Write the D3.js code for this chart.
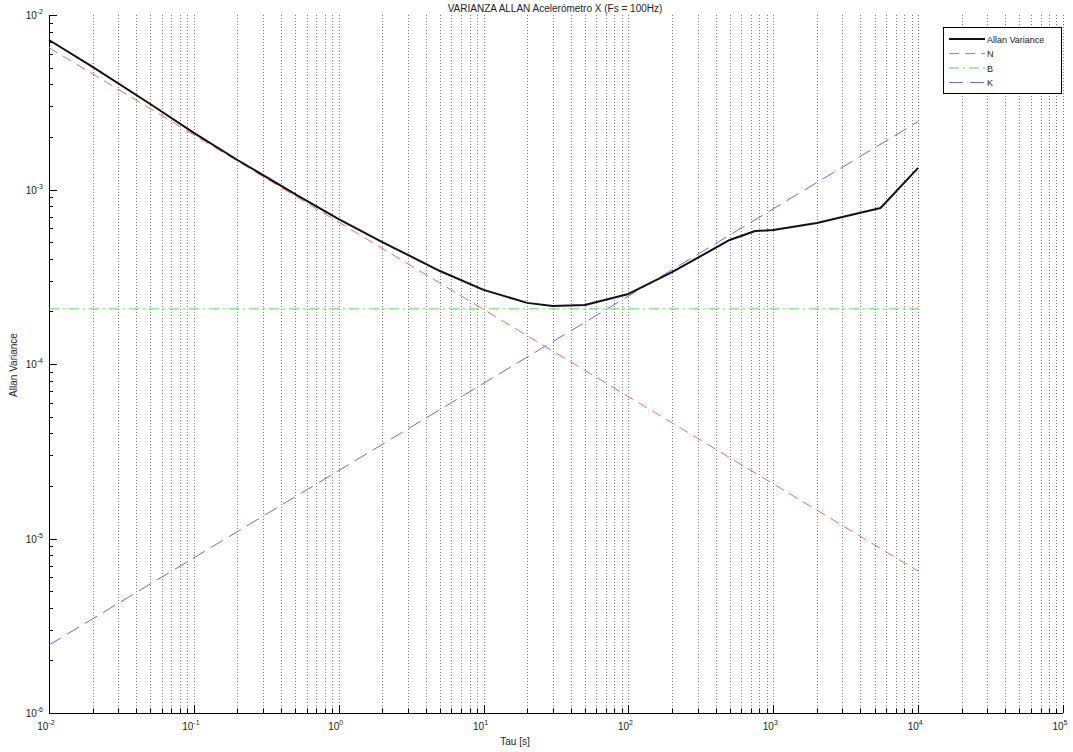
<!DOCTYPE html>
<html>
<head>
<meta charset="utf-8">
<script src="https://cdn.jsdelivr.net/npm/d3@7"></script>
<style>
  html, body { margin: 0; padding: 0; background: #fff; }
  svg { display: block; font-family: "Liberation Sans", Arial, Helvetica, sans-serif; }
</style>
</head>
<body>
<svg id="chart" width="1073" height="752"></svg>
<script>
// Measured Allan curve (tau in seconds)
const tau = [0.01, 0.02, 0.05, 0.1, 0.2, 0.5, 1, 2, 5, 10, 20, 30, 50, 100, 200, 500, 750, 1000, 2000, 5500, 10000];
const allanDev = [7.19e-3, 5.04e-3, 3.09e-3, 2.11e-3, 1.476e-3, 9.42e-4, 6.77e-4, 5.00e-4, 3.41e-4, 2.66e-4,
                  2.24e-4, 2.15e-4, 2.18e-4, 2.52e-4, 3.36e-4, 5.14e-4, 5.78e-4, 5.86e-4, 6.43e-4, 7.83e-4, 1.33e-3];

// Noise-term fit lines (end points)
const fitTau = [0.01, 10000];
const nFit = [6.5e-3, 6.5e-6];
const bFit = [2.07e-4, 2.07e-4];
const kFit = [2.45e-6, 2.45e-3];

const xDecades = [-2, -1, 0, 1, 2, 3, 4, 5];
const yDecades = [-6, -5, -4, -3, -2];

const titleText = "VARIANZA ALLAN Acelerómetro X (Fs = 100Hz)";
const xLabel = "Tau [s]";
const yLabel = "Allan Variance";
const legendNames = ["Allan Variance", "N", "B", "K"];

const svg = d3.select("#chart");
const L = 49, R = 1063, T = 15, B = 713;

const x = d3.scaleLog().domain([1e-2, 1e5]).range([L, R]);
const y = d3.scaleLog().domain([1e-6, 1e-2]).range([B, T]);

// Tick positions: majors at decades, minors at 2..9
const xMinor = [];
xDecades.slice(0, -1).forEach(d => { for (let k = 2; k <= 9; k++) xMinor.push(k * Math.pow(10, d)); });
const xMajor = xDecades.map(d => Math.pow(10, d));
const yMinor = [];
yDecades.slice(0, -1).forEach(d => { for (let k = 2; k <= 9; k++) yMinor.push(k * Math.pow(10, d)); });
const yMajor = yDecades.map(d => Math.pow(10, d));

// Vertical dotted grid
svg.append("g").selectAll("line")
  .data(xMajor.concat(xMinor))
  .join("line")
  .attr("x1", d => Math.round(x(d)) + 0.5).attr("x2", d => Math.round(x(d)) + 0.5)
  .attr("y1", T).attr("y2", B)
  .attr("stroke", "#777").attr("stroke-width", 1)
  .attr("stroke-dasharray", "1,2");

// Axes lines
svg.append("line").attr("x1", L).attr("x2", R).attr("y1", B + 0.5).attr("y2", B + 0.5)
  .attr("stroke", "#000").attr("stroke-width", 1);
svg.append("line").attr("x1", L + 0.5).attr("x2", L + 0.5).attr("y1", T).attr("y2", B)
  .attr("stroke", "#000").attr("stroke-width", 1);

// Inward ticks
const tickG = svg.append("g").attr("stroke", "#000").attr("stroke-width", 1);
tickG.selectAll(".xt").data(xMajor.map(v => ({v, len: 8})).concat(xMinor.map(v => ({v, len: 4}))))
  .join("line")
  .attr("x1", d => Math.round(x(d.v)) + 0.5).attr("x2", d => Math.round(x(d.v)) + 0.5)
  .attr("y1", B).attr("y2", d => B - d.len);
tickG.selectAll(".yt").data(yMajor.map(v => ({v, len: 8})).concat(yMinor.map(v => ({v, len: 4}))))
  .join("line")
  .attr("y1", d => Math.round(y(d.v)) + 0.5).attr("y2", d => Math.round(y(d.v)) + 0.5)
  .attr("x1", L).attr("x2", d => L + d.len);

// Tick labels (10 with superscript exponent)
function powLabel(sel, exp) {
  sel.append("tspan").text("10");
  sel.append("tspan").attr("dy", -5).attr("font-size", 7).text(exp);
}
xDecades.forEach(d => {
  const t = svg.append("text")
    .attr("x", x(Math.pow(10, d)) - 3).attr("y", B + 17)
    .attr("font-size", 10).attr("fill", "#222").attr("text-anchor", "middle");
  powLabel(t, d);
});
yDecades.forEach(d => {
  const t = svg.append("text")
    .attr("x", L - 6).attr("y", y(Math.pow(10, d)) + 4)
    .attr("font-size", 10).attr("fill", "#222").attr("text-anchor", "end");
  powLabel(t, d);
});

// Fit lines
const line = d3.line().x(d => x(d[0])).y(d => y(d[1]));
const zipFit = vals => fitTau.map((t, i) => [t, vals[i]]);

svg.append("path").datum(zipFit(nFit)).attr("d", line)
  .attr("fill", "none").attr("stroke", "#e86a6a").attr("stroke-width", 1)
  .attr("stroke-dasharray", "10,6");
svg.append("path").datum(zipFit(bFit)).attr("d", line)
  .attr("fill", "none").attr("stroke", "#55d455").attr("stroke-width", 1)
  .attr("stroke-dasharray", "10,4,2,4");
svg.append("path").datum(zipFit(kFit)).attr("d", line)
  .attr("fill", "none").attr("stroke", "#6868e0").attr("stroke-width", 1)
  .attr("stroke-dasharray", "14,7");

// Allan curve
svg.append("path").datum(tau.map((t, i) => [t, allanDev[i]])).attr("d", line)
  .attr("fill", "none").attr("stroke", "#111").attr("stroke-width", 2)
  .attr("stroke-linejoin", "round");

// Title and axis labels
svg.append("text").attr("x", 555).attr("y", 12).attr("text-anchor", "middle")
  .attr("font-size", 10).attr("fill", "#222").text(titleText);
svg.append("text").attr("x", 515).attr("y", 745).attr("text-anchor", "middle")
  .attr("font-size", 10).attr("fill", "#222").text(xLabel);
svg.append("text").attr("transform", "translate(17,365) rotate(-90)").attr("text-anchor", "middle")
  .attr("font-size", 10).attr("fill", "#222").text(yLabel);

// Legend
const lg = svg.append("g").attr("transform", "translate(943,27)");
lg.append("rect").attr("x", 0.5).attr("y", 0.5).attr("width", 118).attr("height", 66)
  .attr("fill", "#fff").attr("stroke", "#000").attr("stroke-width", 1);
const legendStyle = [
  {stroke: "#111", w: 2, dash: null},
  {stroke: "#e86a6a", w: 1, dash: "10,6"},
  {stroke: "#55d455", w: 1, dash: "10,4,2,4"},
  {stroke: "#6868e0", w: 1, dash: "14,7"}
];
legendNames.forEach((name, i) => {
  const yy = 12 + i * 14.5;
  lg.append("line").attr("x1", 6).attr("x2", 42).attr("y1", yy).attr("y2", yy)
    .attr("stroke", legendStyle[i].stroke).attr("stroke-width", legendStyle[i].w)
    .attr("stroke-dasharray", legendStyle[i].dash);
  lg.append("text").attr("x", 44).attr("y", yy + 3.5).attr("font-size", 9).attr("fill", "#222").text(name);
});
</script>
</body>
</html>
